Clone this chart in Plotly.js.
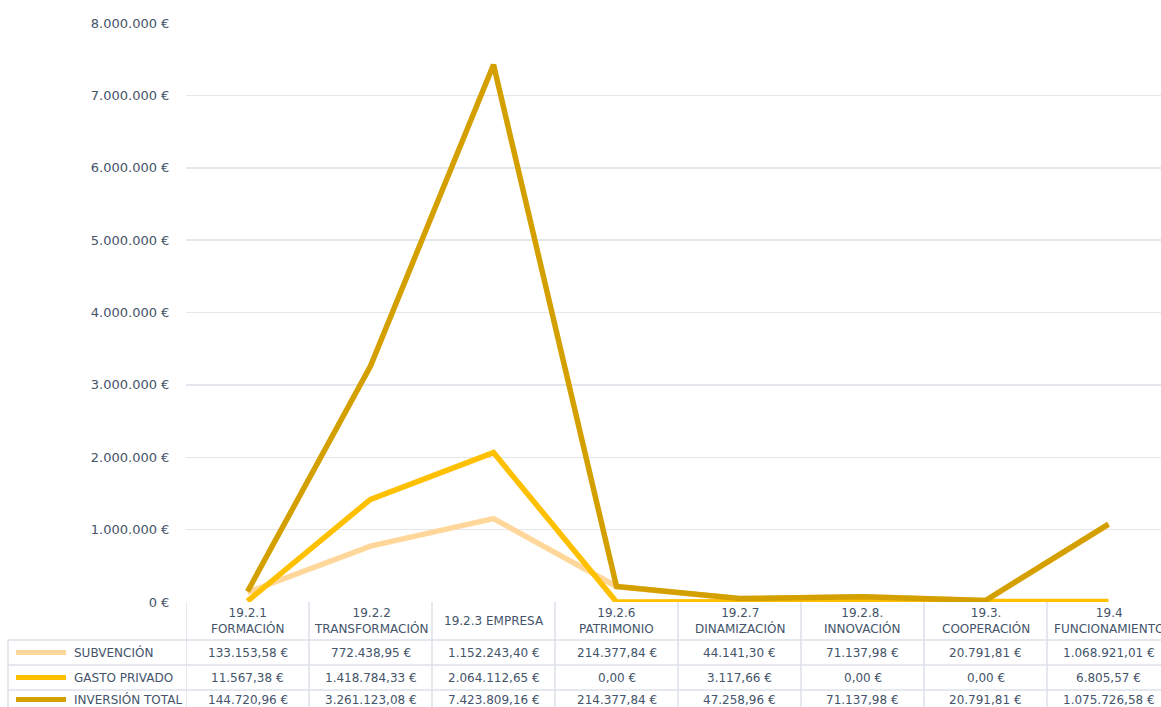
<!DOCTYPE html>
<html>
<head>
<meta charset="utf-8">
<script src="https://cdn.plot.ly/plotly-3.0.1.min.js"></script>
<style>html,body{margin:0;padding:0;background:#fff;}#chart{width:1161px;height:707px;}</style>
</head>
<body>
<div id="chart"></div>
<script>
// ---- data ----
const categories = ["19.2.1 FORMACIÓN", "19.2.2 TRANSFORMACIÓN", "19.2.3 EMPRESA", "19.2.6 PATRIMONIO", "19.2.7 DINAMIZACIÓN", "19.2.8. INNOVACIÓN", "19.3. COOPERACIÓN", "19.4 FUNCIONAMIENTO"];
const headerLabels = ["19.2.1<br>FORMACIÓN", "19.2.2<br>TRANSFORMACIÓN", "19.2.3 EMPRESA", "19.2.6<br>PATRIMONIO", "19.2.7<br>DINAMIZACIÓN", "19.2.8.<br>INNOVACIÓN", "19.3.<br>COOPERACIÓN", "19.4<br>FUNCIONAMIENTO"];
const seriesNames = ["SUBVENCIÓN", "GASTO PRIVADO", "INVERSIÓN TOTAL"];
const subvencion = [133153.58, 772438.95, 1152243.40, 214377.84, 44141.30, 71137.98, 20791.81, 1068921.01];
const gastoPrivado = [11567.38, 1418784.33, 2064112.65, 0.00, 3117.66, 0.00, 0.00, 6805.57];
const inversionTotal = [144720.96, 3261123.08, 7423809.16, 214377.84, 47258.96, 71137.98, 20791.81, 1075726.58];
const yTicks = [0, 1000000, 2000000, 3000000, 4000000, 5000000, 6000000, 7000000, 8000000];

// ---- styles ----
const colors = ["#FFD79B", "#FFC000", "#D4A000"];
const seriesData = [subvencion, gastoPrivado, inversionTotal];
const textColor = "#44546A";
const gridColor = "#E3E6EC";
const FONT = "DejaVu Sans, Verdana, sans-serif";

function groupThousands(s) { return s.replace(/\B(?=(\d{3})+(?!\d))/g, "."); }
function fmt(v) {
  const s = v.toFixed(2);
  let [i, d] = s.split(".");
  return groupThousands(i) + "," + d + " €";
}
const yTickText = yTicks.map(v => groupThousands(String(Math.round(v))) + " €");

// pixel -> paper helpers (plot area: x 186..1161, y 23..602)
const PL = 186, PW = 975, PB = 602, PH = 579;
const py = p => (PB - p) / PH;
const pxp = p => (p - PL) / PW;

const idx = categories.map((c, i) => i);

const traces = seriesData.map((vals, s) => ({
  type: "scatter",
  mode: "lines",
  x: idx,
  y: vals,
  name: seriesNames[s],
  line: { color: colors[s], width: 5.5 },
  cliponaxis: false,
  hoverinfo: "skip"
}));

const shapes = [];
const annotations = [];
const borderColor = "#DDE1E8";
const rowTops = [640, 665, 690, 716];
const headerTop = 602;

for (let i = 0; i <= categories.length; i++) {
  shapes.push({ type: "line", xref: "x", yref: "paper", x0: i - 0.5, x1: i - 0.5, y0: py(headerTop), y1: py(rowTops[3]), line: { color: borderColor, width: 1.5 }, layer: "below" });
}
shapes.push({ type: "line", xref: "paper", yref: "paper", x0: pxp(8), x1: pxp(8), y0: py(rowTops[0]), y1: py(rowTops[3]), line: { color: borderColor, width: 1.5 } });
for (let r = 0; r < 3; r++) {
  shapes.push({ type: "line", xref: "paper", yref: "paper", x0: pxp(8), x1: 1, y0: py(rowTops[r]), y1: py(rowTops[r]), line: { color: borderColor, width: 1.5 } });
}

headerLabels.forEach((h, i) => {
  annotations.push({ xref: "x", yref: "paper", x: i, y: py(621), text: h, showarrow: false, xanchor: "center", yanchor: "middle", font: { family: FONT, size: 12, color: textColor }, align: "center" });
});

const rowCenters = [652.5, 677.5, 699.5];
seriesData.forEach((vals, s) => {
  const yc = py(rowCenters[s]);
  shapes.push({ type: "line", xref: "paper", yref: "paper", x0: pxp(16), x1: pxp(66), y0: yc, y1: yc, line: { color: colors[s], width: 5 } });
  annotations.push({ xref: "paper", yref: "paper", x: pxp(72), y: yc, text: seriesNames[s], showarrow: false, xanchor: "left", yanchor: "middle", font: { family: FONT, size: 12, color: textColor } });
  vals.forEach((v, i) => {
    annotations.push({ xref: "x", yref: "paper", x: i, y: yc, text: fmt(v), showarrow: false, xanchor: "center", yanchor: "middle", font: { family: FONT, size: 12, color: textColor } });
  });
});

const layout = {
  width: 1161,
  height: 707,
  margin: { l: PL, r: 0, t: 23, b: 105, pad: 0 },
  paper_bgcolor: "#fff",
  plot_bgcolor: "#fff",
  showlegend: false,
  hovermode: false,
  font: { family: FONT, size: 12, color: textColor },
  xaxis: { type: "linear", range: [-0.5, 7.5 - 9 / 123], showticklabels: false, showgrid: false, zeroline: false, ticks: "", fixedrange: true },
  yaxis: {
    range: [0, 8000000],
    tickmode: "array",
    tickvals: yTicks,
    ticktext: yTickText,
    showgrid: true,
    gridcolor: gridColor,
    gridwidth: 1.5,
    zeroline: false,
    ticks: "outside",
    ticklen: 13,
    tickcolor: "rgba(0,0,0,0)",
    tickfont: { family: FONT, size: 13, color: textColor },
    fixedrange: true
  },
  shapes: shapes,
  annotations: annotations
};

Plotly.newPlot("chart", traces, layout, { displayModeBar: false, staticPlot: true });
</script>
</body>
</html>
